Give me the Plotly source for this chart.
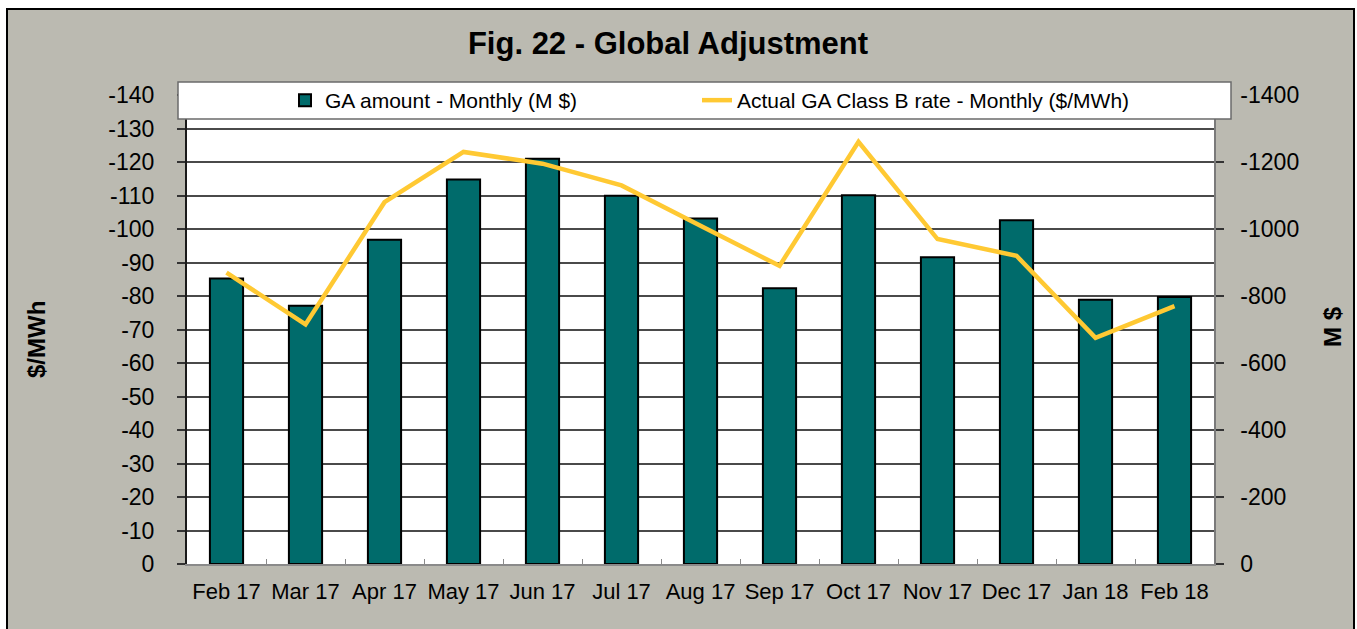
import plotly.graph_objects as go

months = ["Feb 17", "Mar 17", "Apr 17", "May 17", "Jun 17", "Jul 17", "Aug 17",
          "Sep 17", "Oct 17", "Nov 17", "Dec 17", "Jan 18", "Feb 18"]
ga_amount = [-852, -771, -968, -1148, -1210, -1099, -1031, -823, -1101, -916, -1026, -789, -797]
ga_rate = [-87, -71.5, -108, -123, -119.5, -113, -101, -89, -126, -97, -92, -67.5, -77]

rate_ticks = [0, -10, -20, -30, -40, -50, -60, -70, -80, -90, -100, -110, -120, -130, -140]
rate_tick_labels = ["0", "-10", "-20", "-30", "-40", "-50", "-60", "-70", "-80", "-90",
                    "-100", "-110", "-120", "-130", "-140"]
amount_ticks = [0, -200, -400, -600, -800, -1000, -1200, -1400]
amount_tick_labels = ["0", "-200", "-400", "-600", "-800", "-1000", "-1200", "-1400"]

W, H = 1357, 629
L, R, T, B = 187, 1214, 95, 564
FONT = "Arial, Liberation Sans, sans-serif"
BG = "#BBBAB1"
GRID = "#4a4a4a"


def px(x):
    return (x - L) / (R - L)


def py(y):
    return (B - y) / (B - T)


fig = go.Figure()
fig.add_trace(go.Bar(
    x=months, y=ga_amount, name="GA amount - Monthly (M $)",
    marker=dict(color="#006B6B", line=dict(color="#000000", width=2)),
    yaxis="y", legend="legend",
))
fig.add_trace(go.Scatter(
    x=months, y=ga_rate, name="Actual GA Class B rate - Monthly ($/MWh)",
    mode="lines", line=dict(color="#FFC933", width=4.5),
    yaxis="y2", legend="legend2",
))

shapes = [
    # legend box
    dict(type="rect", xref="paper", yref="paper", x0=px(178), x1=px(1231), y0=py(119), y1=py(82),
         fillcolor="white", line=dict(color="#6b6b6b", width=1.5), layer="above"),
    # white outer strips and chart border
    dict(type="rect", xref="paper", yref="paper", x0=px(-5), x1=px(W + 5), y0=py(9), y1=py(-5),
         fillcolor="white", line=dict(width=0), layer="above"),
    dict(type="rect", xref="paper", yref="paper", x0=px(-5), x1=px(7), y0=py(W), y1=py(-5),
         fillcolor="white", line=dict(width=0), layer="above"),
    dict(type="rect", xref="paper", yref="paper", x0=px(1354), x1=px(W + 5), y0=py(W), y1=py(-5),
         fillcolor="white", line=dict(width=0), layer="above"),
    dict(type="rect", xref="paper", yref="paper", x0=px(7), x1=px(1354), y0=py(640), y1=py(9),
         fillcolor="rgba(0,0,0,0)", line=dict(color="black", width=2), layer="above"),
]

legend_common = dict(orientation="h", xanchor="left", y=py(100.5), yanchor="middle",
                     bgcolor="rgba(0,0,0,0)", font=dict(size=21, family=FONT))

fig.update_layout(
    width=W, height=H,
    margin=dict(l=L, r=W - R, t=T, b=H - B, autoexpand=False),
    paper_bgcolor=BG, plot_bgcolor="white",
    font=dict(family=FONT, color="black"),
    bargap=0.58,
    showlegend=True,
    legend=dict(x=px(285), **legend_common),
    legend2=dict(x=px(697), **legend_common),
    title=dict(text="<b>Fig. 22 - Global Adjustment</b>", x=668 / W, xanchor="center",
               y=1 - 43 / H, yanchor="middle", font=dict(size=31, family=FONT, color="black")),
    xaxis=dict(type="category", showline=True, linecolor="#8a8a8a", linewidth=2,
               ticks="inside", tickson="boundaries", ticklen=5, tickcolor="#8a8a8a",
               tickangle=0, automargin=False,
               tickfont=dict(size=22, family=FONT), showgrid=False, ticklabelstandoff=7),
    yaxis=dict(side="right", range=[0, -1400], tickmode="array",
               tickvals=amount_ticks, ticktext=amount_tick_labels,
               showline=True, linecolor="#7a7a7a", linewidth=1.5,
               ticks="outside", ticklen=8, tickcolor="#333333", tickwidth=1.5,
               tickfont=dict(size=23, family=FONT), ticklabelstandoff=12,
               showgrid=True, gridcolor=GRID, gridwidth=1.5, automargin=False,
               minor=dict(dtick=100, tick0=0, showgrid=True, gridcolor=GRID, gridwidth=1.5, ticks=""),
               zeroline=False),
    yaxis2=dict(side="left", overlaying="y", anchor="x", range=[0, -140], tickmode="array",
                tickvals=rate_ticks, ticktext=rate_tick_labels,
                showline=True, linecolor="#1a1a1a", linewidth=2,
                ticks="outside", ticklen=8, tickcolor="#333333", tickwidth=1.5,
                tickfont=dict(size=23, family=FONT), ticklabelstandoff=18,
                showgrid=False, zeroline=False, automargin=False),
    shapes=shapes,
    annotations=[
        dict(text="<b>$/MWh</b>", textangle=-90, xref="paper", yref="paper",
             x=px(36), y=py(340), xanchor="center", yanchor="middle", showarrow=False,
             font=dict(size=24, family=FONT, color="black")),
        dict(text="<b>M $</b>", textangle=-90, xref="paper", yref="paper",
             x=px(1332), y=py(327), xanchor="center", yanchor="middle", showarrow=False,
             font=dict(size=24, family=FONT, color="black")),
    ],
)

fig.write_html("out.html")
